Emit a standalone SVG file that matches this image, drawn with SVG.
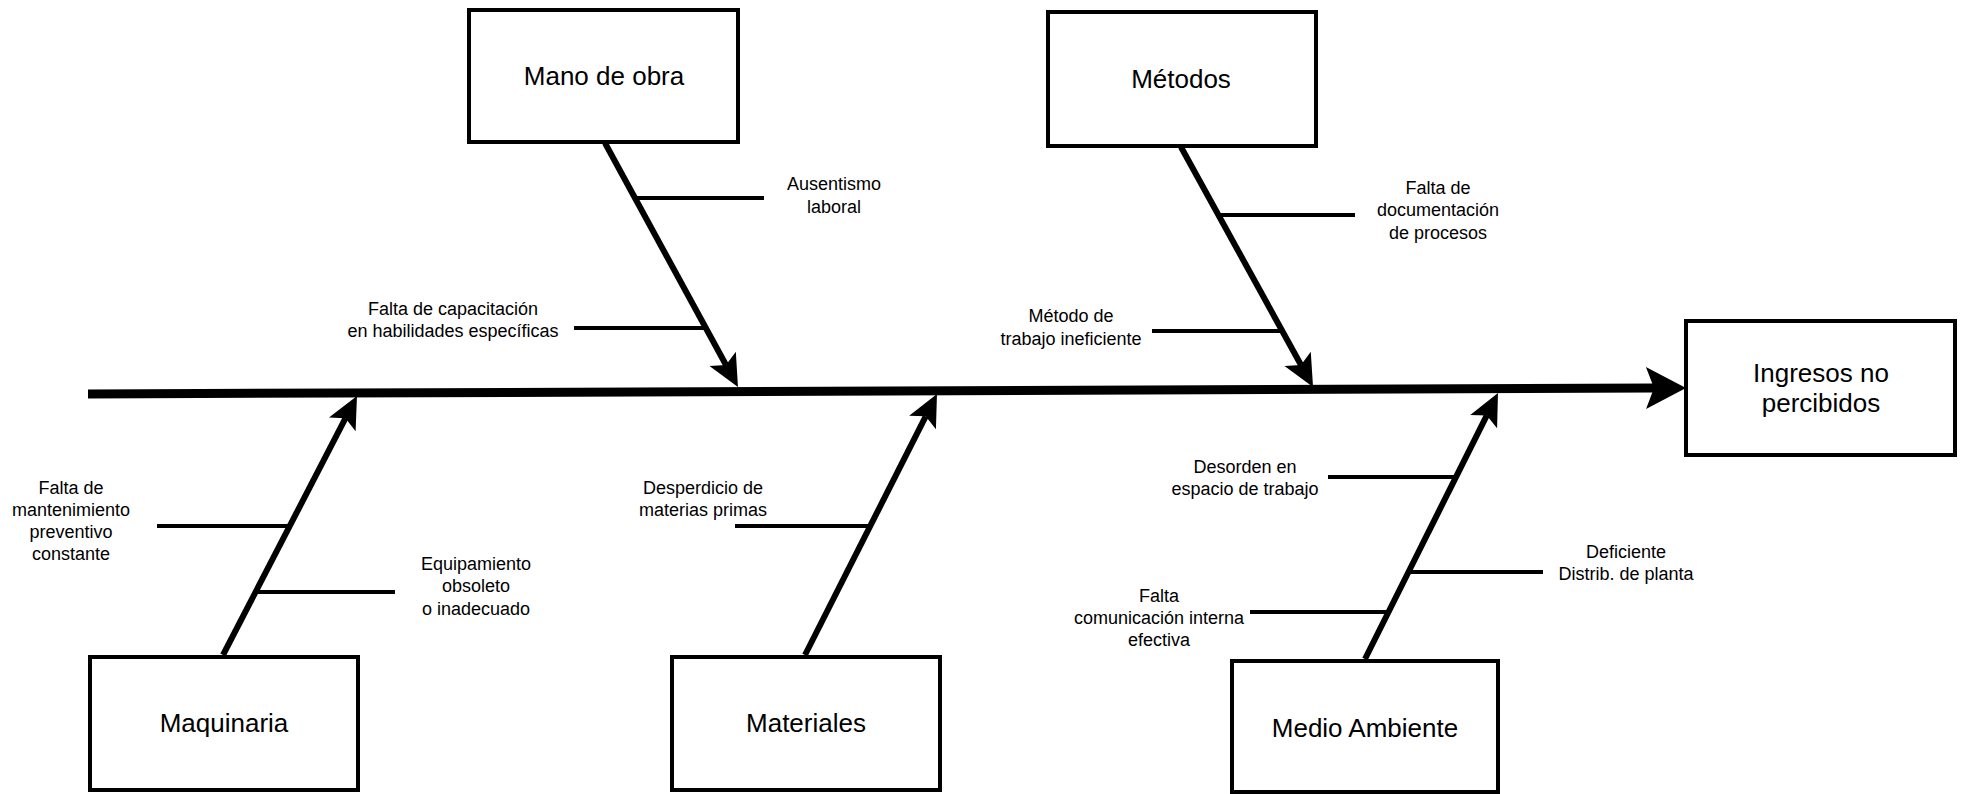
<svg xmlns="http://www.w3.org/2000/svg" width="1964" height="794" viewBox="0 0 1964 794">
<style>
.box{fill:#fff;stroke:#000;stroke-width:4}
.bt{font-family:"Liberation Sans",Arial,sans-serif;font-size:26px;fill:#000;text-anchor:middle}
.lt{font-family:"Liberation Sans",Arial,sans-serif;font-size:18px;fill:#000;text-anchor:middle}
.spine{stroke:#000;stroke-width:9;fill:none}
.bone{stroke:#000;stroke-width:6;fill:none}
.sub{stroke:#000;stroke-width:4;fill:none}
</style>
<defs>
<marker id="bigArrow" markerUnits="userSpaceOnUse" markerWidth="40" markerHeight="42" viewBox="0 -21 40 42" refX="8" refY="0" orient="auto" overflow="visible">
<path d="M0,-21 L40,0 L0,21 L8,0 Z" fill="#000"/>
</marker>
<marker id="arrow" markerUnits="userSpaceOnUse" markerWidth="32" markerHeight="30" viewBox="0 -15 32 30" refX="7" refY="0" orient="auto" overflow="visible">
<path d="M0,-15 L32,0 L0,15 L7,0 Z" fill="#000"/>
</marker>
</defs>
<rect width="1964" height="794" fill="#fff"/>
<g id="connectors">
<line class="spine" x1="88" y1="394" x2="1654" y2="388" marker-end="url(#bigArrow)"/>
<line class="bone" x1="605" y1="143" x2="726" y2="365" marker-end="url(#arrow)"/>
<line class="bone" x1="1181" y1="147" x2="1301" y2="365" marker-end="url(#arrow)"/>
<line class="bone" x1="223" y1="655" x2="345.5" y2="418.2" marker-end="url(#arrow)"/>
<line class="bone" x1="805" y1="655" x2="925.7" y2="416.3" marker-end="url(#arrow)"/>
<line class="bone" x1="1365" y1="659" x2="1486.8" y2="415.4" marker-end="url(#arrow)"/>
<line class="sub" x1="636" y1="198" x2="764" y2="198"/>
<line class="sub" x1="574" y1="328" x2="706" y2="328"/>
<line class="sub" x1="1219" y1="215" x2="1355" y2="215"/>
<line class="sub" x1="1152" y1="331" x2="1282" y2="331"/>
<line class="sub" x1="157" y1="526" x2="290" y2="526"/>
<line class="sub" x1="257" y1="592" x2="395" y2="592"/>
<line class="sub" x1="735" y1="526" x2="870" y2="526"/>
<line class="sub" x1="1328" y1="477" x2="1456" y2="477"/>
<line class="sub" x1="1410" y1="572" x2="1543" y2="572"/>
<line class="sub" x1="1250" y1="612" x2="1389" y2="612"/>
</g>
<g id="mano-de-obra">
<rect class="box" x="469" y="10" width="269" height="132"/>
<text class="bt" x="604" y="85">Mano de obra</text>
</g>
<g id="metodos">
<rect class="box" x="1048" y="12" width="268" height="134"/>
<text class="bt" x="1181" y="88">Métodos</text>
</g>
<g id="ingresos">
<rect class="box" x="1686" y="321" width="269" height="134"/>
<text class="bt" x="1821" y="382">Ingresos no</text>
<text class="bt" x="1821" y="412">percibidos</text>
</g>
<g id="maquinaria">
<rect class="box" x="90" y="657" width="268" height="133"/>
<text class="bt" x="224" y="732">Maquinaria</text>
</g>
<g id="materiales">
<rect class="box" x="672" y="657" width="268" height="133"/>
<text class="bt" x="806" y="732">Materiales</text>
</g>
<g id="medio-ambiente">
<rect class="box" x="1232" y="661" width="266" height="131"/>
<text class="bt" x="1365" y="737">Medio Ambiente</text>
</g>
<g id="label-ausentismo">
<text class="lt" x="834" y="190">Ausentismo</text>
<text class="lt" x="834" y="213">laboral</text>
</g>
<g id="label-capacitacion">
<text class="lt" x="453" y="315">Falta de capacitación</text>
<text class="lt" x="453" y="337">en habilidades específicas</text>
</g>
<g id="label-documentacion">
<text class="lt" x="1438" y="194">Falta de</text>
<text class="lt" x="1438" y="216">documentación</text>
<text class="lt" x="1438" y="239">de procesos</text>
</g>
<g id="label-metodo">
<text class="lt" x="1071" y="322">Método de</text>
<text class="lt" x="1071" y="345">trabajo ineficiente</text>
</g>
<g id="label-mantenimiento">
<text class="lt" x="71" y="494">Falta de</text>
<text class="lt" x="71" y="516">mantenimiento</text>
<text class="lt" x="71" y="538">preventivo</text>
<text class="lt" x="71" y="560">constante</text>
</g>
<g id="label-equipamiento">
<text class="lt" x="476" y="570">Equipamiento</text>
<text class="lt" x="476" y="592">obsoleto</text>
<text class="lt" x="476" y="615">o inadecuado</text>
</g>
<g id="label-desperdicio">
<text class="lt" x="703" y="494">Desperdicio de</text>
<text class="lt" x="703" y="516">materias primas</text>
</g>
<g id="label-desorden">
<text class="lt" x="1245" y="473">Desorden en</text>
<text class="lt" x="1245" y="495">espacio de trabajo</text>
</g>
<g id="label-deficiente">
<text class="lt" x="1626" y="558">Deficiente</text>
<text class="lt" x="1626" y="580">Distrib. de planta</text>
</g>
<g id="label-comunicacion">
<text class="lt" x="1159" y="602">Falta</text>
<text class="lt" x="1159" y="624">comunicación interna</text>
<text class="lt" x="1159" y="646">efectiva</text>
</g>
</svg>
